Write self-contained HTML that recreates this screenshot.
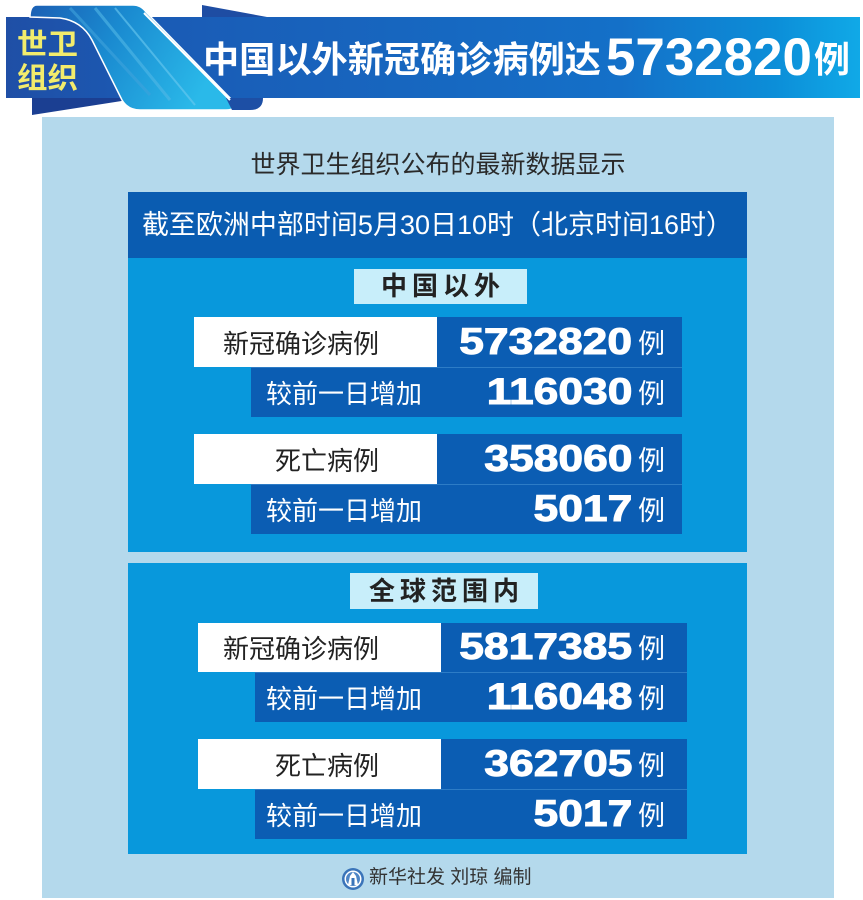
<!DOCTYPE html>
<html><head><meta charset="utf-8">
<style>
*{margin:0;padding:0;box-sizing:border-box}
html,body{width:863px;height:900px;overflow:hidden;background:#fff}
body{position:relative;font-family:"Liberation Sans","Noto Sans CJK SC",sans-serif}
.abs{position:absolute}
.wbox{position:absolute;background:#fff}
.dbox{position:absolute;background:#0b5db3}
.dline{border-top:1px solid #2d7cc6}
.lbl{position:absolute;font-size:26px;color:#222;white-space:nowrap;line-height:50px;padding-top:2px}
.lbl2{position:absolute;font-size:26px;color:#fff;white-space:nowrap;line-height:50px;padding-top:2px}
.num{position:absolute;right:231px;font-family:"Liberation Sans",sans-serif;font-weight:bold;font-size:37px;color:#fff;line-height:50px;transform:scaleX(1.2);transform-origin:right center;-webkit-text-stroke:1px #fff;white-space:nowrap}
.li{position:absolute;left:638px;font-size:27px;color:#fff;line-height:50px;padding-top:2px}
.tag{position:absolute;background:#c8eefa;color:#222;font-weight:bold;font-size:26px;letter-spacing:5px;text-align:center;padding-left:5px;white-space:nowrap}
</style></head><body>

<!-- light panel -->
<div class="abs" style="left:42px;top:117px;width:792px;height:781px;background:#b4d9ec"></div>

<!-- header -->
<svg class="abs" style="left:0;top:0" width="863" height="120" viewBox="0 0 863 120">
<defs>
<linearGradient id="bg" x1="0" y1="0" x2="1" y2="0">
<stop offset="0" stop-color="#1f4fa6"/>
<stop offset="0.2" stop-color="#1a5cb6"/>
<stop offset="0.72" stop-color="#1470c8"/>
<stop offset="0.9" stop-color="#0c8ed8"/>
<stop offset="1" stop-color="#10a9e7"/>
</linearGradient>
<linearGradient id="rb" x1="0" y1="0" x2="1" y2="0.3">
<stop offset="0" stop-color="#1b5fb4"/>
<stop offset="0.45" stop-color="#1a8ad0"/>
<stop offset="1" stop-color="#2ab9e9"/>
</linearGradient>
</defs>
<rect x="6" y="17" width="854" height="81" fill="url(#bg)"/>
<polygon points="32,98 128,98 128,100 32,115" fill="#1b3f92"/>
<polygon points="202,5 267,17 202,17" fill="#1e4da3"/>
<path d="M37,5 L133,5 Q141,5 146,12 L232,100 Q238,110 226,110 L140,110 Q128,110 122,100 L92,40 Q82,21 60,18 L30,17 Q30,5 37,5 Z" fill="url(#rb)" stroke="#fff" stroke-width="1.5"/>
<path d="M70,8 L150,95" stroke="#3fa3dc" stroke-width="3" opacity="0.6"/>
<path d="M95,8 L170,100" stroke="#52b8e6" stroke-width="3" opacity="0.6"/>
<path d="M115,8 L195,105" stroke="#6ccaf0" stroke-width="2" opacity="0.6"/>
<path d="M226,98 L263,98 Q263,110 250,110 L232,110 Z" fill="#1d4fa5"/>
<line x1="144" y1="13" x2="230" y2="100" stroke="#fff" stroke-width="2"/>
<text x="17" y="54" font-family="'Liberation Sans','Noto Sans CJK SC',sans-serif" font-size="29" font-weight="bold" fill="#f2ec6c" textLength="61" lengthAdjust="spacingAndGlyphs">世卫</text>
<text x="17" y="88" font-family="'Liberation Sans','Noto Sans CJK SC',sans-serif" font-size="29" font-weight="bold" fill="#f2ec6c" textLength="61" lengthAdjust="spacingAndGlyphs">组织</text>
<text x="203" y="72" font-family="'Liberation Sans','Noto Sans CJK SC',sans-serif" font-size="36" font-weight="bold" fill="#fff" textLength="398" lengthAdjust="spacingAndGlyphs">中国以外新冠确诊病例达</text>
<text x="606" y="75" font-family="'Liberation Sans',sans-serif" font-size="53" font-weight="bold" fill="#fff" textLength="206" lengthAdjust="spacingAndGlyphs">5732820</text>
<text x="814" y="72" font-family="'Liberation Sans','Noto Sans CJK SC',sans-serif" font-size="36" font-weight="bold" fill="#fff">例</text>
</svg>

<!-- subtitle -->
<div class="abs" style="left:42px;width:792px;top:148px;text-align:center;font-size:25px;color:#2a2a2a;line-height:34px">世界卫生组织公布的最新数据显示</div>

<!-- band -->
<div class="abs" style="left:128px;top:192px;width:619px;height:66px;background:#0a5cb1;color:#fff;font-size:27px;text-align:center;line-height:66px;white-space:nowrap">截至欧洲中部时间5月30日10时（北京时间16时）</div>

<!-- panel 1 -->
<div class="abs" style="left:128px;top:258px;width:619px;height:294px;background:#0898dc"></div>
<div class="tag" style="left:354px;top:269px;width:173px;height:35px;line-height:35px">中国以外</div>

<div class="wbox" style="left:194px;top:317px;width:243px;height:50px"></div>
<div class="dbox" style="left:437px;top:317px;width:245px;height:50px"></div>
<div class="dbox dline" style="left:251px;top:367px;width:431px;height:50px"></div>
<div class="wbox" style="left:194px;top:434px;width:243px;height:50px"></div>
<div class="dbox" style="left:437px;top:434px;width:245px;height:50px"></div>
<div class="dbox dline" style="left:251px;top:484px;width:431px;height:50px"></div>

<div class="lbl" style="right:484px;top:317px">新冠确诊病例</div>
<div class="num" style="top:317px">5732820</div>
<div class="li" style="top:317px">例</div>
<div class="lbl2" style="left:266px;top:367px">较前一日增加</div>
<div class="num" style="top:367px">116030</div>
<div class="li" style="top:367px">例</div>
<div class="lbl" style="right:484px;top:434px">死亡病例</div>
<div class="num" style="top:434px">358060</div>
<div class="li" style="top:434px">例</div>
<div class="lbl2" style="left:266px;top:484px">较前一日增加</div>
<div class="num" style="top:484px">5017</div>
<div class="li" style="top:484px">例</div>

<!-- panel 2 -->
<div class="abs" style="left:128px;top:563px;width:619px;height:291px;background:#0898dc"></div>
<div class="tag" style="left:350px;top:573px;width:188px;height:36px;line-height:36px">全球范围内</div>

<div class="wbox" style="left:198px;top:623px;width:243px;height:49px"></div>
<div class="dbox" style="left:441px;top:623px;width:246px;height:49px"></div>
<div class="dbox dline" style="left:255px;top:672px;width:432px;height:50px"></div>
<div class="wbox" style="left:198px;top:739px;width:243px;height:50px"></div>
<div class="dbox" style="left:441px;top:739px;width:246px;height:50px"></div>
<div class="dbox dline" style="left:255px;top:789px;width:432px;height:50px"></div>

<div class="lbl" style="right:484px;top:622px">新冠确诊病例</div>
<div class="num" style="top:622px">5817385</div>
<div class="li" style="top:622px">例</div>
<div class="lbl2" style="left:266px;top:672px">较前一日增加</div>
<div class="num" style="top:672px">116048</div>
<div class="li" style="top:672px">例</div>
<div class="lbl" style="right:484px;top:739px">死亡病例</div>
<div class="num" style="top:739px">362705</div>
<div class="li" style="top:739px">例</div>
<div class="lbl2" style="left:266px;top:789px">较前一日增加</div>
<div class="num" style="top:789px">5017</div>
<div class="li" style="top:789px">例</div>

<!-- footer -->
<svg class="abs" style="left:341px;top:867px" width="24" height="24" viewBox="0 0 24 24">
<circle cx="12" cy="12" r="11" fill="#3a74b9"/>
<circle cx="12" cy="12" r="8.5" fill="#fff"/>
<circle cx="12" cy="12" r="7" fill="#4f86c6"/>
<path d="M7,18 L9,9 L12,5 L15,9 L17,18 Z" fill="#fff"/>
<rect x="10.5" y="11" width="3" height="7" fill="#3a74b9"/>
</svg>
<div class="abs" style="left:369px;top:865px;font-size:19px;color:#333;line-height:26px;white-space:nowrap">新华社发 刘琼 编制</div>

</body></html>
